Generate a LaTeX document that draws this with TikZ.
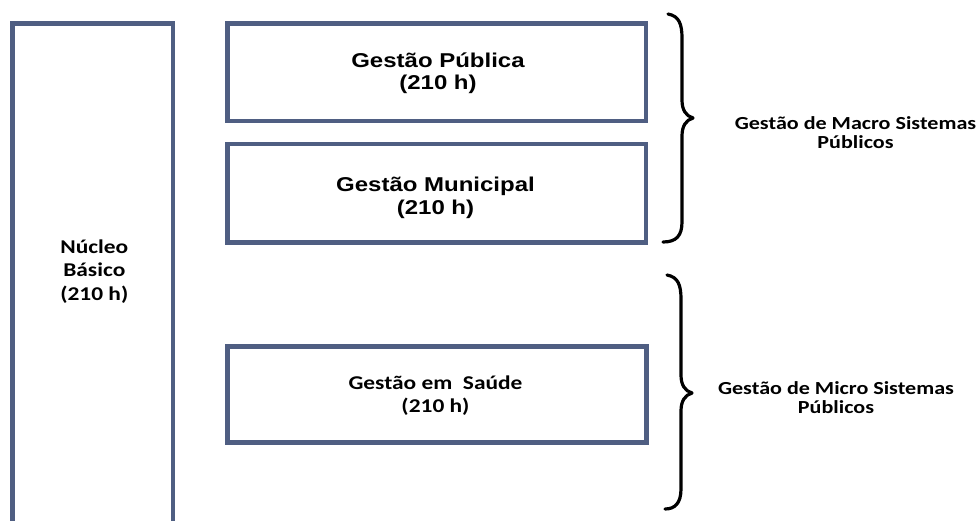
\documentclass[tikz,border=0pt]{standalone}
\usepackage{fontspec}
\setmainfont{Carlito}
\newfontfamily\calib[FakeStretch=1.2]{Carlito}
\newfontfamily\arialw[FakeStretch=1.2]{Liberation Sans}
\definecolor{boxline}{RGB}{79,94,130}
\begin{document}
\begin{tikzpicture}[x=1pt,y=-1pt,
  box/.style={draw=boxline, line width=4.5pt, rectangle, inner sep=0pt},
  arialtxt/.style={font=\arialw\bfseries\fontsize{20}{22.5}\selectfont, align=center, inner sep=0pt, anchor=base},
  calibtxt/.style={font=\calib\bfseries\fontsize{19.5}{23}\selectfont, align=center, inner sep=0pt, anchor=base},
  sidetxt/.style={font=\calib\bfseries\fontsize{18.4}{19}\selectfont, align=center, inner sep=0pt, anchor=base},
  bracepath/.style={line width=3.2pt, line cap=round, line join=round}]
\useasboundingbox (0,0) rectangle (978,520);
\clip (0,0) rectangle (978,520);
\fill[white] (0,0) rectangle (978,520);
% boxes
\node[box, minimum width=160.5pt, minimum height=517pt] (nucleo) at (92.75,282) {};
\node[box, minimum width=418.5pt, minimum height=97.5pt] (publica) at (436.75,72.25) {};
\node[box, minimum width=418.5pt, minimum height=98.5pt] (municipal) at (436.75,193.25) {};
\node[box, minimum width=419pt, minimum height=96pt] (saude) at (437,394.5) {};
% texts (anchor = baseline of last line)
\node[arialtxt] (tpub) at (438,89.5) {Gestão Pública\\(210 h)};
\node[arialtxt] (tmun) at (435.5,214) {Gestão Municipal\\(210 h)};
\node[calibtxt] (tsau) at (435.5,412) {Gestão em\ \ Saúde\\(210 h)};
\node[calibtxt, font=\calib\bfseries\fontsize{19.5}{23.5}\selectfont] (tnuc) at (94.3,300.3) {Núcleo\\Básico\\(210 h)};
\node[sidetxt] (tmacro) at (855.5,148.3) {Gestão de Macro Sistemas\\Públicos};
\node[sidetxt] (tmicro) at (836,413) {Gestão de Micro Sistemas\\Públicos};
% braces
\coordinate (b1top) at (668,14);
\coordinate (b1tip) at (693,118);
\coordinate (b1bot) at (663,242);
\draw[bracepath] (b1top) .. controls (679,16) and (682,24) .. (682,38)
  -- (682,100) .. controls (682,110) and (686,116) .. (b1tip)
  .. controls (686,120) and (682,126) .. (682,136)
  -- (682,222) .. controls (682,236) and (676,242) .. (b1bot);
\coordinate (b2top) at (667,275);
\coordinate (b2tip) at (692,393);
\coordinate (b2bot) at (665,509);
\draw[bracepath] (b2top) .. controls (678,277) and (681,285) .. (681,299)
  -- (681,375) .. controls (681,385) and (685,391) .. (b2tip)
  .. controls (685,395) and (681,401) .. (681,411)
  -- (681,489) .. controls (681,503) and (675,509) .. (b2bot);
\end{tikzpicture}
\end{document}
